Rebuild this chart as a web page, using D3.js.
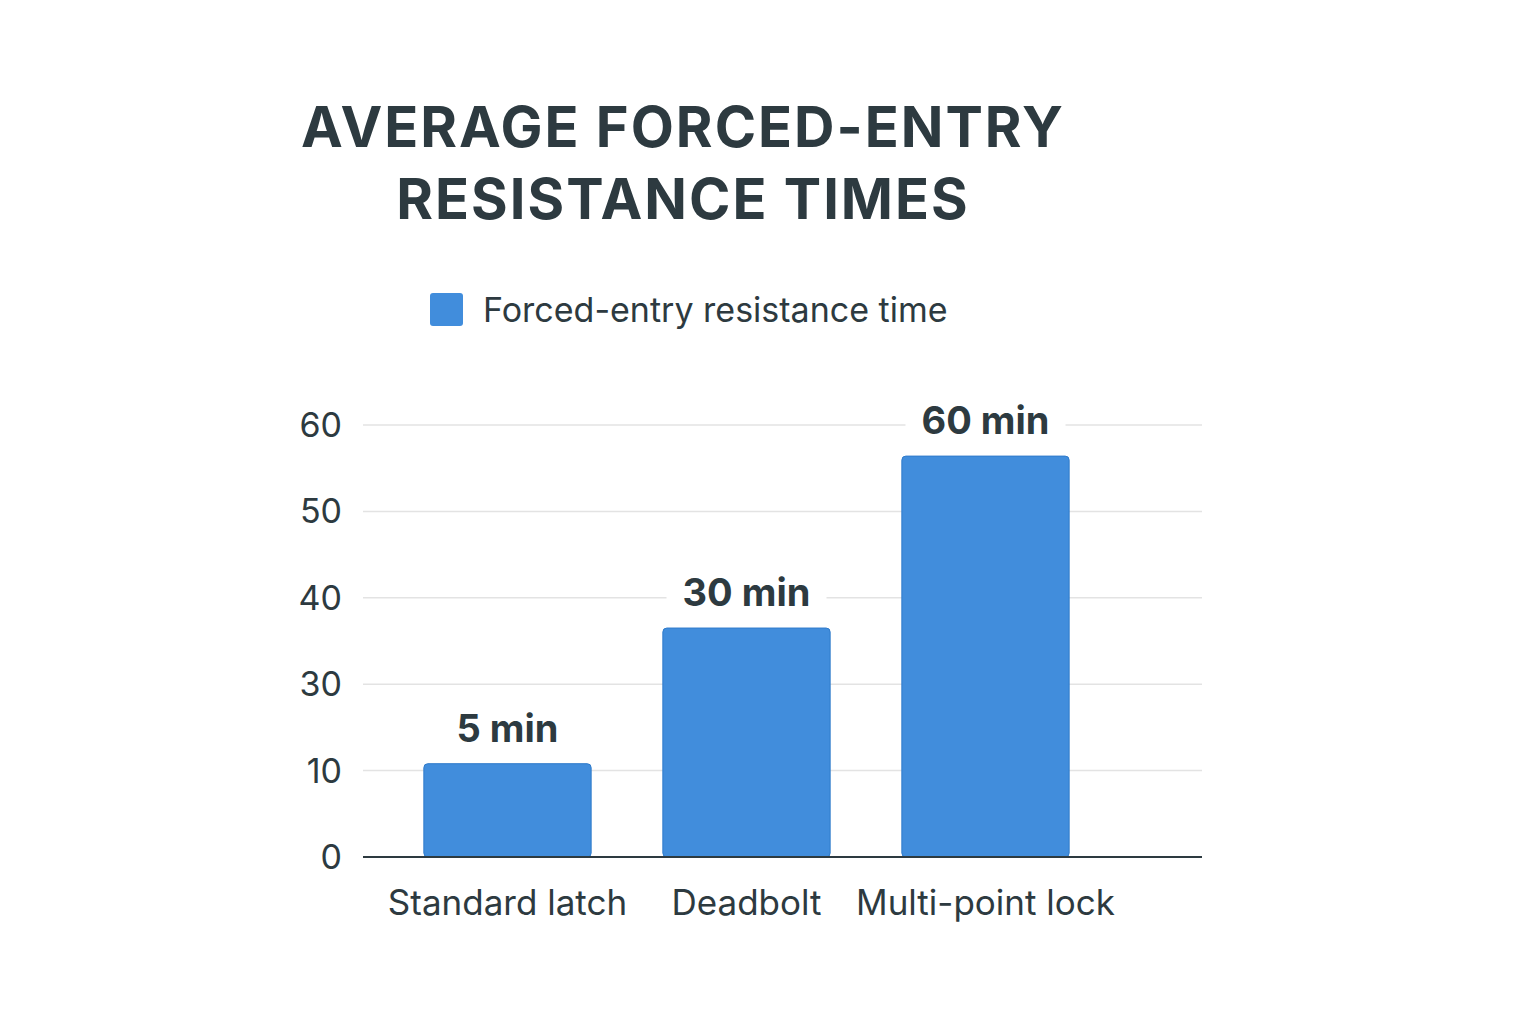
<!DOCTYPE html>
<html><head><meta charset="utf-8">
<script src="https://cdn.jsdelivr.net/npm/d3@7"></script>
<style>body{margin:0;background:#fff}</style>
</head><body>
<script>
// data
var categories = ["Standard latch", "Deadbolt", "Multi-point lock"];
var values = [10.8, 26.5, 46.4];          // bar heights on the drawn axis
var valueLabels = ["5 min", "30 min", "60 min"];
var tickValues = [0, 10, 20, 30, 40, 50];
var tickLabels = ["0", "10", "30", "40", "50", "60"];

var W = 1536, H = 1024, font = "Inter, 'Noto Sans', sans-serif", ink = "#2d3a40";
var svg = d3.select("body").append("svg").attr("width", W).attr("height", H);

var y = d3.scaleLinear().domain([0, 50]).range([857, 425]);
var x = d3.scaleBand().domain(categories).range([388, 1105]).paddingInner(0.3).paddingOuter(0.15);

// title
svg.append("text").attr("x", 683).attr("y", 147).attr("text-anchor", "middle")
  .attr("font-family", font).attr("font-weight", 700).attr("font-size", 56)
  .attr("letter-spacing", 2).attr("fill", ink).text("AVERAGE FORCED-ENTRY");
svg.append("text").attr("x", 683).attr("y", 219).attr("text-anchor", "middle")
  .attr("font-family", font).attr("font-weight", 700).attr("font-size", 56)
  .attr("letter-spacing", 2).attr("fill", ink).text("RESISTANCE TIMES");

// legend
svg.append("rect").attr("x", 430).attr("y", 293).attr("width", 33).attr("height", 33)
  .attr("rx", 3).attr("fill", "#418ddc");
svg.append("text").attr("x", 483).attr("y", 322).attr("font-family", font)
  .attr("font-size", 34).attr("fill", ink).text("Forced-entry resistance time");

// grid + y labels
svg.selectAll(".grid").data(tickValues.slice(1)).enter().append("line")
  .attr("x1", 363).attr("x2", 1202).attr("y1", d => y(d)).attr("y2", d => y(d))
  .attr("stroke", "#e3e3e3").attr("stroke-width", 1.5);
svg.selectAll(".yl").data(tickValues).enter().append("text")
  .attr("x", 342).attr("y", d => y(d) + 12).attr("text-anchor", "end")
  .attr("font-family", font).attr("font-size", 34).attr("fill", ink)
  .text((d, i) => tickLabels[i]);

// bars
svg.selectAll(".bar").data(values).enter().append("rect")
  .attr("x", (d, i) => x(categories[i])).attr("width", x.bandwidth())
  .attr("y", d => y(d)).attr("height", d => y(0) - y(d))
  .attr("rx", 4).attr("fill", "#418ddc").attr("stroke", "#2f7bcb").attr("stroke-width", 1);

// value labels with white backing
var lab = svg.selectAll(".vl").data(values).enter().append("g");
lab.append("rect").attr("x", (d, i) => x(categories[i]) + x.bandwidth() / 2 - 80)
  .attr("width", 160).attr("y", d => y(d) - 68).attr("height", 52).attr("fill", "#fff");
lab.append("text").attr("x", (d, i) => x(categories[i]) + x.bandwidth() / 2)
  .attr("y", d => y(d) - 22).attr("text-anchor", "middle")
  .attr("font-family", font).attr("font-weight", 700).attr("font-size", 38).attr("fill", ink)
  .text((d, i) => valueLabels[i]);

// x axis
svg.append("line").attr("x1", 363).attr("x2", 1202).attr("y1", 857).attr("y2", 857)
  .attr("stroke", ink).attr("stroke-width", 2);
svg.selectAll(".xl").data(categories).enter().append("text")
  .attr("x", d => x(d) + x.bandwidth() / 2).attr("y", 915).attr("text-anchor", "middle")
  .attr("font-family", font).attr("font-size", 35).attr("fill", ink).text(d => d);
</script>
</body></html>
